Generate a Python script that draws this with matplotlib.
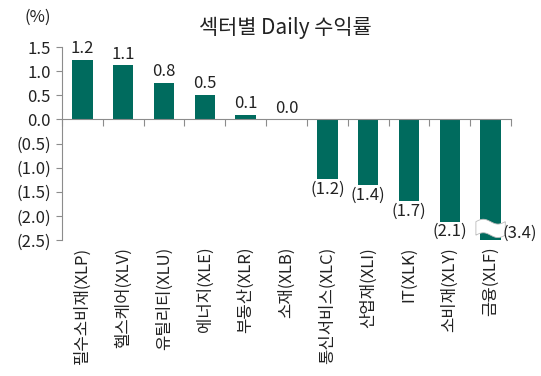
import matplotlib
matplotlib.use("Agg")
import matplotlib.pyplot as plt
from matplotlib.transforms import blended_transform_factory
from matplotlib.patches import Polygon
import numpy as np

plt.rcParams['font.family'] = ['Noto Sans CJK KR', 'DejaVu Sans']

categories = ['필수소비재(XLP)', '헬스케어(XLV)', '유틸리티(XLU)', '에너지(XLE)', '부동산(XLR)',
              '소재(XLB)', '통신서비스(XLC)', '산업재(XLI)', 'IT(XLK)', '소비재(XLY)', '금융(XLF)']
values = [1.24, 1.12, 0.76, 0.51, 0.10, 0.0, -1.24, -1.37, -1.70, -2.12, -3.40]
yticks = [1.5, 1.0, 0.5, 0.0, -0.5, -1.0, -1.5, -2.0, -2.5]
ymin, ymax = -2.5, 1.5

color = '#006B5E'
txt = '#222222'
fs = 12

def fmt(v):
    s = f"{abs(v):.1f}"
    return f"({s})" if v < -0.049 else s

fig = plt.figure(figsize=(5.41, 3.76), dpi=100)
ax = fig.add_axes([62/541, 1-240/376, (511-62)/541, (240-47)/376])

x = np.arange(len(categories))
clipped = [max(v, ymin) for v in values]
ax.bar(x, clipped, width=0.5, color=color, zorder=2)
ax.set_xlim(-0.5, len(categories)-0.5)
ax.set_ylim(ymin, ymax)

for s in ['top', 'right']:
    ax.spines[s].set_visible(False)
ax.spines['left'].set_color('#8c8c8c')
ax.spines['bottom'].set_color('#8c8c8c')
ax.spines['bottom'].set_position(('data', 0))
ax.spines['bottom'].set_zorder(3)

ax.set_yticks(yticks)
ax.set_yticklabels([fmt(v) if v != 0 else "0.0" for v in yticks], fontsize=fs, color=txt)
ax.tick_params(axis='y', direction='out', length=4, color='#8c8c8c', pad=4)
ax.set_xticks(np.arange(-0.5, len(categories), 1.0))
ax.set_xticklabels([])
ax.tick_params(axis='x', direction='out', length=5, color='#8c8c8c')

tb = blended_transform_factory(ax.transData, ax.transAxes)
for i, c in enumerate(categories):
    ax.text(i, -0.035, c, rotation=90, ha='center', va='top', fontsize=fs, color=txt, transform=tb)

for i, v in enumerate(values):
    if v < ymin:
        ax.annotate(fmt(v), (i + 0.3, -2.37), xytext=(0, 0), textcoords='offset points',
                    ha='left', va='center', fontsize=fs, color=txt, zorder=5)
    elif v >= 0:
        ax.annotate(fmt(v), (i, v), xytext=(0, 2), textcoords='offset points',
                    ha='center', va='bottom', fontsize=fs, color=txt)
    else:
        ax.annotate(fmt(v), (i, v), xytext=(0, -1), textcoords='offset points',
                    ha='center', va='top', fontsize=fs, color=txt)

# break mark on clipped bar
for i, v in enumerate(values):
    if v < ymin:
        t = np.linspace(-0.36, 0.36, 50)
        wave = 0.05 * np.sin((t + 0.36) / 0.72 * 2 * np.pi)
        top = -2.12 + wave
        bot = -2.40 + wave
        pts = np.concatenate([np.column_stack([i + t, top]), np.column_stack([i + t[::-1], bot[::-1]])])
        ax.add_patch(Polygon(pts, closed=True, facecolor='white', edgecolor='#bbbbbb',
                             linewidth=0.6, zorder=4, clip_on=False))

fig.text(24/541, 1-17/376, '(%)', fontsize=fs, color=txt, ha='left', va='center')
fig.text(285/541, 1-28/376, '섹터별 Daily 수익률', fontsize=15, color=txt, ha='center', va='center')

fig.savefig('out.png', dpi=100)
